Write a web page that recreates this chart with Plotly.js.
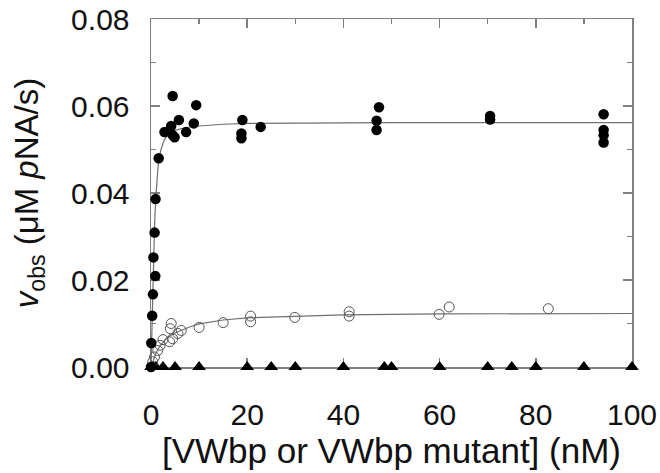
<!DOCTYPE html>
<html>
<head>
<meta charset="utf-8">
<script src="https://cdn.plot.ly/plotly-3.0.1.min.js"></script>
<style>html,body{margin:0;padding:0;background:#fff;}#chart{width:660px;height:473px;}</style>
</head>
<body>
<div id="chart"></div>
<script>
// Wild-type VWbp (filled circles)
const wtX = [0, 0.05, 0.25, 0.4, 0.5, 0.9, 0.75, 0.95, 1.6, 2.8, 4.2, 4.5, 4.9, 4.5, 5.8, 7.3, 8.9, 9.4, 18.8, 18.8, 19.0, 22.8, 46.9, 46.9, 47.4, 70.5, 70.5, 94.1, 94.1, 94.1, 94.1];
const wtV = [0, 0.0055, 0.0118, 0.0167, 0.0252, 0.0209, 0.0309, 0.0386, 0.0480, 0.0540, 0.0554, 0.0533, 0.0528, 0.0623, 0.0568, 0.0540, 0.0560, 0.0602, 0.0537, 0.0526, 0.0568, 0.0552, 0.0566, 0.0545, 0.0597, 0.0577, 0.0569, 0.0581, 0.0545, 0.0533, 0.0516];
// Fit curve for wild type
const wtFitX = [0, 0.25, 0.5, 0.75, 1.0, 1.25, 1.5, 2, 2.5, 3, 4, 5, 7, 10, 15, 20, 30, 50, 100];
const wtFitV = [0, 0.012, 0.024, 0.033, 0.039, 0.0435, 0.0465, 0.0497, 0.0515, 0.0526, 0.0538, 0.0544, 0.0550, 0.0554, 0.0558, 0.0560, 0.0561, 0.0562, 0.0562];
// VWbp mutant (open circles)
const mutX = [0.37, 0.73, 1.4, 1.9, 2.5, 3.85, 4.5, 4.0, 4.2, 5.6, 6.3, 10.0, 15.0, 20.7, 20.7, 29.9, 41.2, 41.2, 59.9, 62.0, 82.6];
const mutV = [0.0012, 0.0023, 0.0038, 0.0050, 0.0063, 0.0058, 0.0065, 0.0088, 0.0100, 0.0077, 0.0084, 0.0091, 0.0102, 0.0117, 0.0104, 0.0114, 0.0127, 0.0117, 0.0121, 0.0138, 0.0134];
const mutFitX = [0, 0.5, 1, 1.5, 2, 3, 4, 5, 6, 8, 10, 15, 20, 30, 40, 60, 80, 100];
const mutFitV = [0, 0.0017, 0.0031, 0.0042, 0.0051, 0.0063, 0.0072, 0.0078, 0.0083, 0.0092, 0.0099, 0.0108, 0.0113, 0.0117, 0.0120, 0.0122, 0.0123, 0.0123];
// Inactive mutant (triangles)
const triX = [0, 0.5, 1, 2.5, 5, 10, 20, 25, 30, 40, 48.5, 50, 60, 70, 75, 80, 90, 100];
const triV = [0, 0, 0, 0, 0, 0, 0, 0, 0, 0, 0, 0, 0, 0, 0, 0, 0, 0];

const FONT = 'Liberation Sans, Arial, Helvetica, sans-serif';
const axisColor = '#808080';

const traces = [
  {x: wtFitX, y: wtFitV, mode: 'lines', line: {color: '#707070', width: 1.2}, cliponaxis: false, hoverinfo: 'skip'},
  {x: mutFitX, y: mutFitV, mode: 'lines', line: {color: '#707070', width: 1.2}, cliponaxis: false, hoverinfo: 'skip'},
  {x: triX, y: triV, mode: 'markers', marker: {symbol: 'triangle-up', size: 12, color: '#000'}, cliponaxis: false},
  {x: mutX, y: mutV, mode: 'markers', marker: {symbol: 'circle-open', size: 10, color: '#555', line: {width: 1}}, cliponaxis: false},
  {x: wtX, y: wtV, mode: 'markers', marker: {symbol: 'circle', size: 10.5, color: '#000'}, cliponaxis: false}
];

const layout = {
  width: 660, height: 473,
  margin: {l: 151, r: 28, t: 19, b: 106},
  paper_bgcolor: '#fff', plot_bgcolor: '#fff',
  showlegend: false,
  font: {family: FONT, color: '#111'},
  xaxis: {
    range: [0, 100], dtick: 20, tick0: 0,
    showgrid: false, zeroline: false,
    showline: true, mirror: 'allticks', linecolor: axisColor, linewidth: 1.5,
    ticks: 'inside', ticklen: 9, tickwidth: 1.5, tickcolor: axisColor,
    minor: {dtick: 10, ticks: 'inside', ticklen: 5, tickwidth: 1.5, tickcolor: axisColor, showgrid: false},
    tickfont: {size: 30, family: FONT, color: '#111'},
    ticklabelstandoff: 20,
    layer: 'below traces',
    title: {text: '[VWbp or VWbp mutant] (nM)', font: {size: 35, family: FONT, color: '#111'}, standoff: 8}
  },
  yaxis: {
    range: [0, 0.08], dtick: 0.02, tick0: 0, tickformat: '.2f',
    showgrid: false, zeroline: false,
    showline: true, mirror: 'allticks', linecolor: axisColor, linewidth: 1.5,
    ticks: 'inside', ticklen: 9, tickwidth: 1.5, tickcolor: axisColor,
    minor: {dtick: 0.01, ticks: 'inside', ticklen: 5, tickwidth: 1.5, tickcolor: axisColor, showgrid: false},
    tickfont: {size: 30, family: FONT, color: '#111'},
    ticklabelstandoff: 14,
    layer: 'below traces',
    title: {text: '<i>v</i><sub>obs</sub> (μM <i>p</i>NA/s)', font: {size: 33, family: FONT, color: '#111'}, standoff: 22}
  }
};

Plotly.newPlot('chart', traces, layout, {staticPlot: true, displayModeBar: false});
</script>
</body>
</html>
